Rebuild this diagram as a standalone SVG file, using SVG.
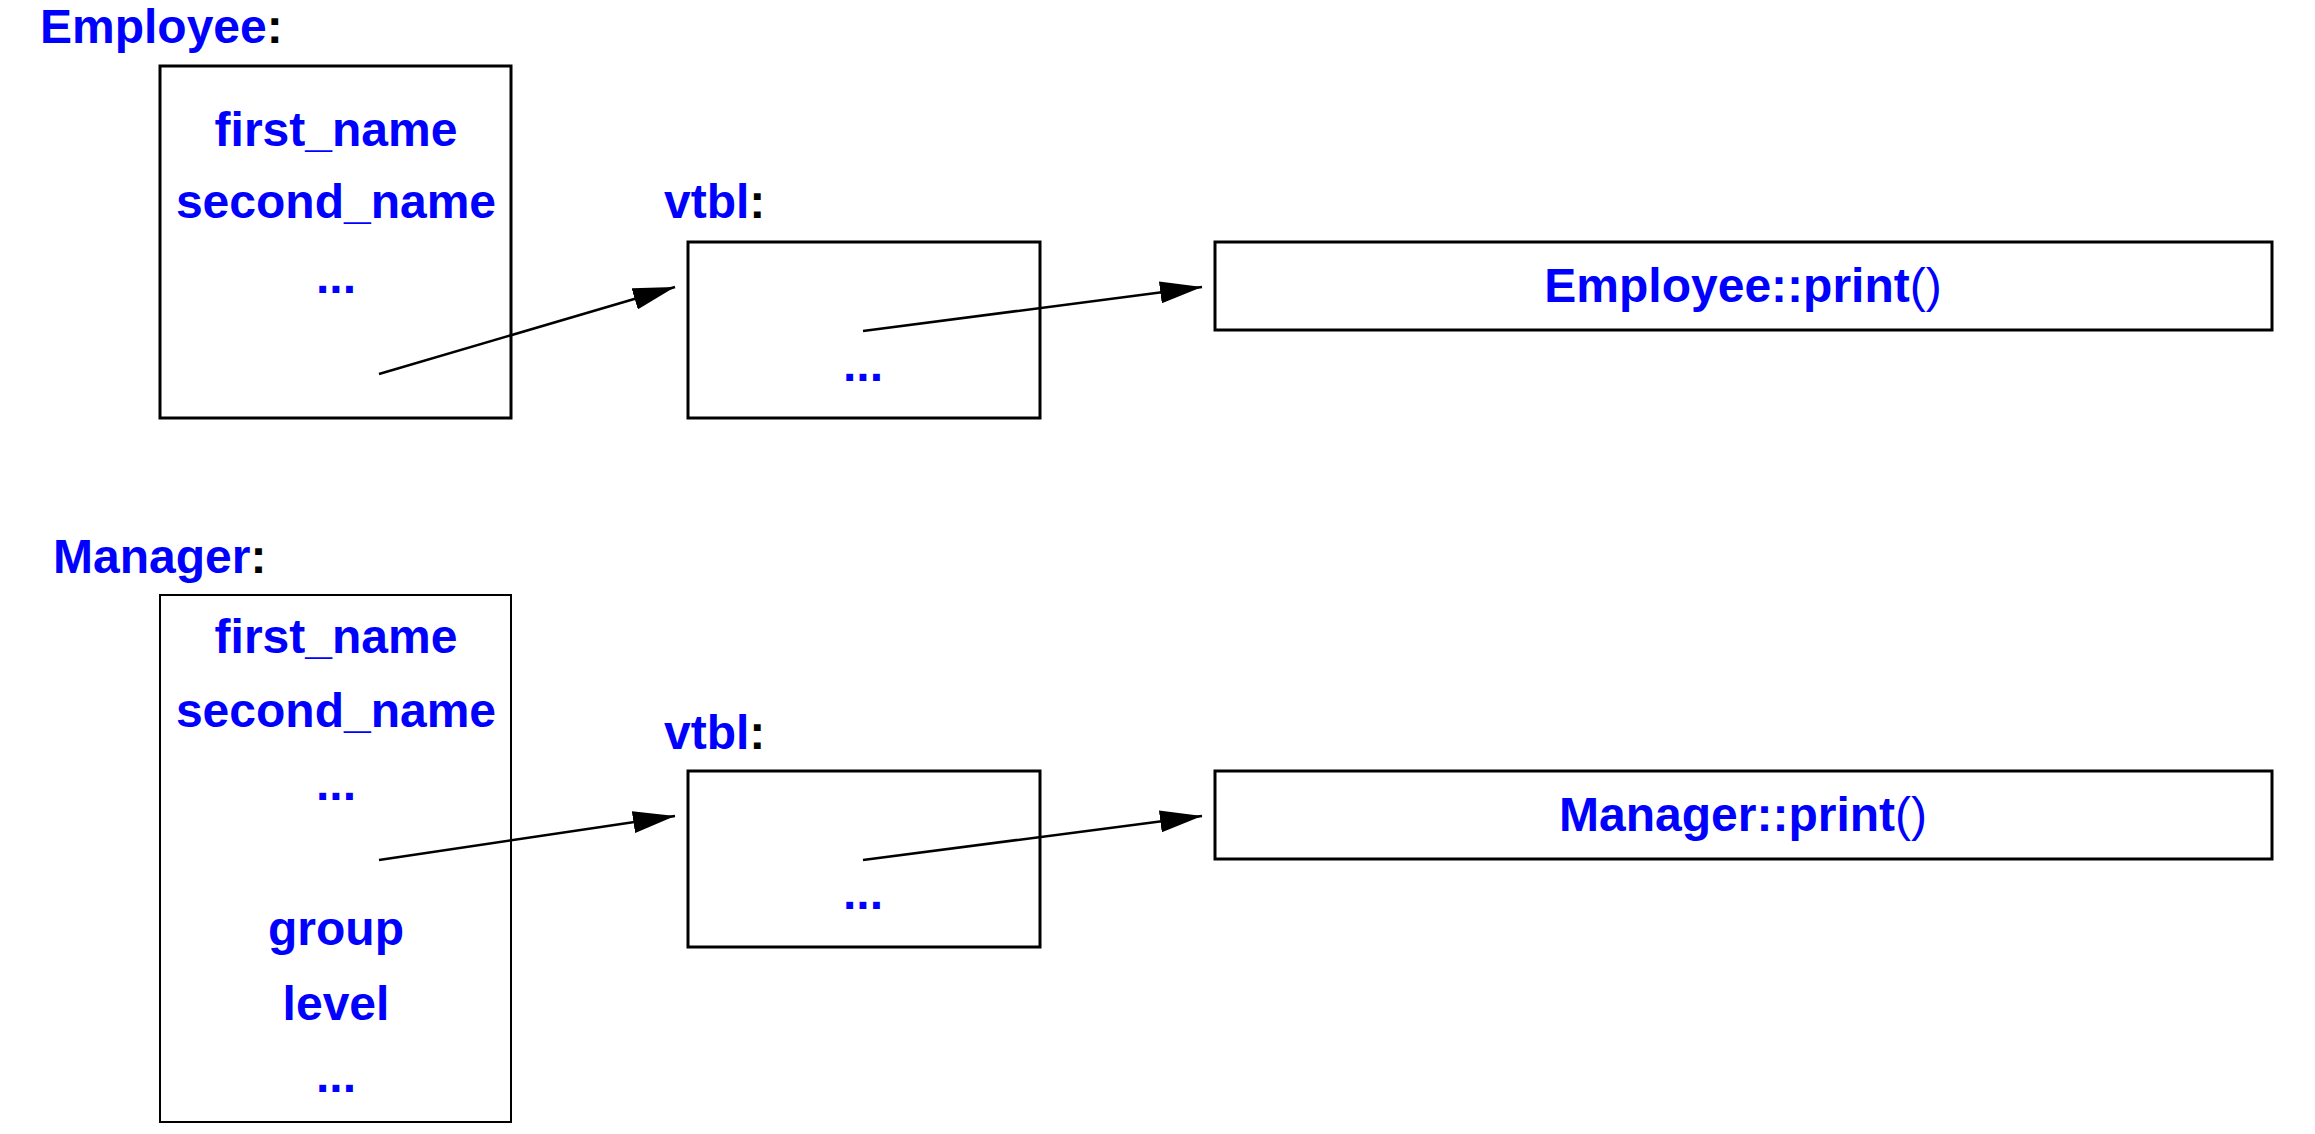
<svg xmlns="http://www.w3.org/2000/svg" width="2315" height="1134" viewBox="0 0 2315 1134">
<defs>
<style>
.t{font-family:"Liberation Sans",Arial,Helvetica,sans-serif;font-weight:bold;font-size:48px;fill:#0000ff}
.c{text-anchor:middle}
.k{fill:#000}
.n{font-weight:normal}
.box{fill:#fff;stroke:#000;stroke-width:3}
.thin{stroke-width:2}
.con{stroke:#000;stroke-width:2.5;fill:none;marker-end:url(#ah)}
</style>
<marker id="ah" markerUnits="userSpaceOnUse" viewBox="0 0 42 22" markerWidth="42" markerHeight="22" refX="42" refY="11" orient="auto">
<path d="M0,0 L42,11 L0,22 Z" fill="#000"/>
</marker>
</defs>
<rect width="2315" height="1134" fill="#fff"/>

<g id="employee-title"><text class="t" x="40" y="43">Employee<tspan class="k">:</tspan></text></g>
<g id="employee-obj">
<rect class="box" x="160" y="66" width="351" height="352"/>
<text class="t c" x="336" y="146">first_name</text>
<text class="t c" x="336" y="218">second_name</text>
<text class="t c" x="336" y="293">...</text>
</g>
<g id="employee-vtbl">
<text class="t" x="664" y="218">vtbl<tspan class="k">:</tspan></text>
<rect class="box" x="688" y="242" width="352" height="176"/>
<text class="t c" x="863" y="381">...</text>
</g>
<g id="employee-print">
<rect class="box" x="1215" y="242" width="1057" height="88"/>
<text class="t c" x="1743" y="302">Employee::print<tspan class="n">()</tspan></text>
</g>

<g id="manager-title"><text class="t" x="53" y="573">Manager<tspan class="k">:</tspan></text></g>
<g id="manager-obj">
<rect class="box thin" x="160" y="595" width="351" height="527"/>
<text class="t c" x="336" y="653">first_name</text>
<text class="t c" x="336" y="727">second_name</text>
<text class="t c" x="336" y="800">...</text>
<text class="t c" x="336" y="945">group</text>
<text class="t c" x="336" y="1020">level</text>
<text class="t c" x="336" y="1092">...</text>
</g>
<g id="manager-vtbl">
<text class="t" x="664" y="749">vtbl<tspan class="k">:</tspan></text>
<rect class="box" x="688" y="771" width="352" height="176"/>
<text class="t c" x="863" y="909">...</text>
</g>
<g id="manager-print">
<rect class="box" x="1215" y="771" width="1057" height="88"/>
<text class="t c" x="1743" y="831">Manager::print<tspan class="n">()</tspan></text>
</g>

<g id="connectors">
<line class="con" x1="379" y1="374" x2="675" y2="287"/>
<line class="con" x1="863" y1="331" x2="1202" y2="287"/>
<line class="con" x1="379" y1="860" x2="675" y2="816"/>
<line class="con" x1="863" y1="860" x2="1202" y2="816"/>
</g>
</svg>
